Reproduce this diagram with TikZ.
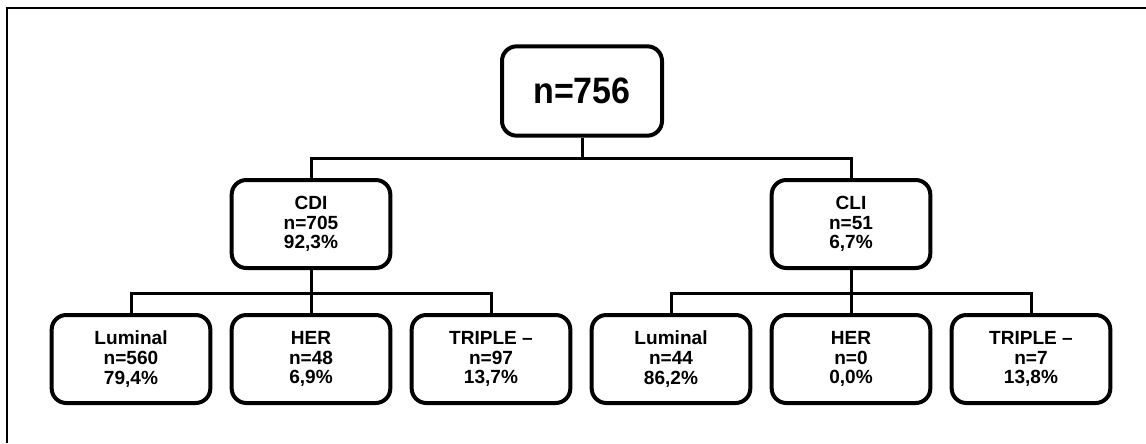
\documentclass[tikz,border=0pt]{standalone}
\usepackage{fontspec}
\setmainfont{Liberation Sans}
\usetikzlibrary{calc}

\begin{document}
\begin{tikzpicture}[x=0.75pt,y=-0.75pt,
caja/.style={rectangle,rounded corners=11pt,draw=black,line width=3pt,fill=white,
  minimum width=119pt,minimum height=66pt,align=center,inner sep=2pt,
  font=\bfseries\fontsize{14.3}{14.8}\selectfont},
raiz/.style={caja,minimum width=120pt,minimum height=67pt,font=\bfseries\fontsize{25.5}{28}\selectfont}]

\useasboundingbox (0,0) rectangle (1146,443);

\pgfmathsetmacro{\nivelA}{224}
\pgfmathsetmacro{\nivelB}{359}

% marco
\draw[line width=2pt] (7,443)--(7,8)--(1146,8);

\node[raiz](total) at (582,91){\scalebox{1}[1.08]{n=756}};

\node[caja](cdi) at (311,\nivelA){CDI\\n=705\\92,3\%};
\node[caja](cli) at (851,\nivelA){CLI\\n=51\\6,7\%};

\node[caja](lum-cdi) at (131,\nivelB){Luminal\\n=560\\79,4\%};
\node[caja](her-cdi) at (311,\nivelB){HER\\n=48\\6,9\%};
\node[caja](tri-cdi) at (491,\nivelB){TRIPLE --\\n=97\\13,7\%};

\node[caja](lum-cli) at (671,\nivelB){Luminal\\n=44\\86,2\%};
\node[caja](her-cli) at (851,\nivelB){HER\\n=0\\0,0\%};
\node[caja](tri-cli) at (1031,\nivelB){TRIPLE --\\n=7\\13,8\%};

\coordinate (barra) at (582,158);
\coordinate (barra-cdi) at (311,293);
\coordinate (barra-cli) at (851,293);

\begin{scope}[line width=2.25pt]
\draw (total)--(barra);
\draw (barra)-|(cdi);
\draw (barra)-|(cli);
\draw (cdi)--(barra-cdi);
\draw (barra-cdi)-|(lum-cdi);
\draw (barra-cdi)--(her-cdi);
\draw (barra-cdi)-|(tri-cdi);
\draw (cli)--(barra-cli);
\draw (barra-cli)-|(lum-cli);
\draw (barra-cli)--(her-cli);
\draw (barra-cli)-|(tri-cli);
\end{scope}

\end{tikzpicture}
\end{document}
